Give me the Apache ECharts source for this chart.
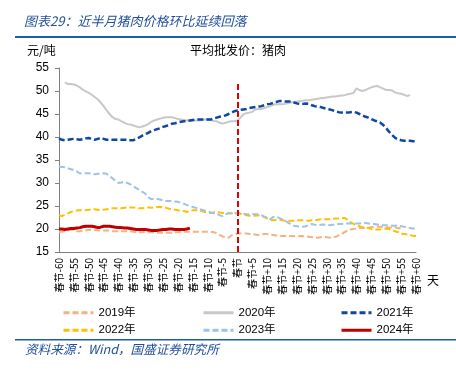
<!DOCTYPE html>
<html><head><meta charset="utf-8">
<script src="https://cdn.jsdelivr.net/npm/echarts@6/dist/echarts.min.js"></script>
<style>html,body{margin:0;padding:0;background:#fff}#c{width:456px;height:371px}</style>
</head><body><div id="c"></div>
<script>
// Day offsets relative to Spring Festival (-60 .. +60)
const dayOffsets = [];
for (let d = -60; d <= 60; d++) dayOffsets.push(d);
const categories = dayOffsets.map(d => d === 0 ? '春节' : (d > 0 ? '春节+' + d : '春节' + d));

const s2019 = [19.4,19.4,19.5,19.7,19.9,19.8,19.5,19.5,19.6,19.7,19.8,19.9,19.8,19.7,19.7,19.7,19.7,19.6,19.5,19.5,19.5,19.5,19.5,19.5,19.5,19.4,19.3,19.3,19.3,19.4,19.3,19.3,19.2,19.2,19.2,19.2,19.2,19.2,19.2,19.3,19.3,19.4,19.4,19.4,19.4,19.4,19.4,19.4,19.4,19.4,19.4,19.4,19.3,19.1,18.7,18.4,18.2,18.1,18.6,18.9,19.0,19.0,19.0,19.0,18.9,18.9,18.8,18.7,18.8,18.9,18.9,18.8,18.7,18.6,18.5,18.5,18.5,18.5,18.5,18.4,18.4,18.5,18.4,18.4,18.3,18.2,18.2,18.1,18.2,18.3,18.2,18.1,18.2,18.3,18.6,18.9,19.3,19.7,19.9,20.0,20.1,20.2,20.2,20.3,20.3,20.4,20.5,20.5,20.5,20.4,20.3,20.3,20.3,20.3,20.2,20.1];
const s2020 = [null,null,51.9,51.5,51.5,51.4,51.2,50.8,50.3,49.9,49.6,49.2,48.7,48.2,47.5,46.7,45.8,45.0,44.3,43.9,43.8,43.4,43.1,42.8,42.7,42.5,42.3,42.1,42.3,42.5,42.8,43.3,43.6,43.8,44.0,44.2,44.3,44.3,44.3,44.1,43.9,43.8,43.7,43.6,43.6,43.6,43.6,43.6,43.7,43.8,43.8,43.7,43.5,43.4,43.1,42.9,43.1,43.3,43.4,43.4,43.6,44.2,44.9,45.2,45.3,45.5,46.0,46.1,46.1,46.3,46.5,46.7,47.0,47.1,47.1,47.1,47.2,47.4,47.5,47.6,47.7,47.8,47.9,48.0,48.0,48.1,48.2,48.3,48.4,48.5,48.6,48.7,48.8,48.8,48.9,49.0,49.1,49.3,49.4,49.6,50.6,50.2,50.0,50.2,50.5,50.8,51.0,51.1,50.8,50.5,50.2,50.2,50.1,49.7,49.5,49.4,49.2,48.9,49.1,null,null];
const s2021 = [39.7,39.4,39.3,39.4,39.5,39.6,39.5,39.4,39.5,39.7,39.8,39.5,39.4,39.6,39.8,39.6,39.4,39.4,39.4,39.4,39.4,39.4,39.4,39.4,39.3,39.3,39.6,39.9,40.3,40.6,40.9,41.3,41.5,41.7,41.9,42.2,42.4,42.6,42.9,43.0,43.2,43.3,43.4,43.5,43.6,43.7,43.8,43.8,43.8,43.8,43.8,43.8,44.0,44.2,44.4,44.5,44.7,45.0,45.3,45.6,45.8,45.9,46.0,46.1,46.3,46.4,46.5,46.6,46.7,46.9,47.1,47.2,47.4,47.6,47.8,47.8,47.7,47.7,47.7,47.5,47.3,47.2,47.2,47.3,47.2,46.9,46.7,46.6,46.5,46.3,46.1,46.0,45.8,45.6,45.4,45.3,45.3,45.3,45.4,45.5,45.3,45.0,44.7,44.4,44.2,43.9,43.6,43.4,43.1,42.6,41.9,41.1,40.4,39.8,39.5,39.3,39.2,39.2,39.2,39.1,39.0];
const s2022 = [23.0,22.8,23.1,23.4,23.7,23.9,24.0,24.1,24.1,24.1,24.2,24.2,24.3,24.2,24.1,24.2,24.3,24.4,24.5,24.5,24.5,24.5,24.6,24.7,24.7,24.7,24.6,24.5,24.5,24.6,24.7,24.6,24.7,24.8,24.8,24.7,24.6,24.4,24.3,24.2,24.1,24.0,23.9,23.7,23.9,24.1,24.1,24.0,23.9,23.7,23.6,23.5,23.6,23.7,23.6,23.5,23.5,23.4,23.4,23.4,23.4,23.3,23.1,23.0,22.9,22.9,22.9,23.0,22.9,22.6,22.3,22.0,21.9,22.0,22.1,21.9,21.8,21.8,21.8,21.8,21.9,21.9,21.9,21.8,21.8,21.9,21.9,22.0,22.1,22.1,22.1,22.1,22.2,22.3,22.3,22.4,22.4,22.0,21.5,21.1,20.9,20.6,20.4,20.3,20.2,20.0,19.9,19.9,19.9,20.0,20.1,20.0,19.7,19.5,19.3,19.0,18.9,18.8,18.7,18.5,18.5];
const s2023 = [33.6,33.5,33.4,33.2,33.0,32.8,32.5,32.1,32.0,32.1,32.1,32.0,31.9,32.0,32.0,32.1,32.0,31.5,31.0,30.5,30.0,30.1,30.3,30.0,29.7,29.3,28.9,28.5,28.1,27.7,26.9,26.5,26.5,26.5,26.4,26.2,26.1,26.1,26.1,26.0,25.9,25.7,25.5,25.2,25.0,24.8,24.6,24.4,24.2,24.0,23.8,23.6,23.4,23.3,23.0,22.8,23.2,23.4,23.4,23.4,23.4,23.4,23.3,23.2,23.2,23.2,23.2,23.2,23.0,22.7,22.4,22.1,22.6,22.7,22.4,22.1,21.8,21.4,21.0,20.7,20.6,20.5,20.5,20.6,20.9,21.1,20.9,20.8,20.9,21.0,20.9,20.8,20.9,21.0,21.1,21.1,21.2,21.2,21.2,21.2,21.2,21.2,21.3,21.3,21.2,21.1,21.1,21.0,20.9,20.8,20.8,20.7,20.7,20.7,20.7,20.6,20.5,20.4,20.2,20.1,20.1];
const s2024 = [20.0,20.0,19.9,20.0,20.1,20.1,20.2,20.3,20.5,20.6,20.6,20.6,20.5,20.3,20.4,20.6,20.6,20.6,20.5,20.4,20.3,20.3,20.2,20.2,20.1,20.0,19.9,19.9,19.9,19.9,19.8,19.7,19.7,19.7,19.8,19.9,19.9,20.0,20.0,19.9,19.9,19.9,19.9,20.0,20.2];

const yTicks = [15,20,25,30,35,40,45,50,55];

const FONT = '"Liberation Sans", Arial, "Noto Sans CJK SC", sans-serif';
const CJK = '"Noto Sans CJK SC", sans-serif';
const dash = [6, 3];

function ser(name, data, color, width, dashed, z) {
  return {
    name, type: 'line', data, symbol: 'none', smooth: false, z: z || 2,
    connectNulls: false,
    lineStyle: { color, width, type: dashed ? dash : 'solid' },
    itemStyle: { color },
    emphasis: { disabled: true }, animation: false
  };
}

const series = [
  ser('2019年', s2019, '#F4B183', 2, true),
  ser('2020年', s2020, '#C8C8C8', 2, false),
  ser('2021年', s2021, '#0D47A1', 2.5, true, 3),
  ser('2022年', s2022, '#FFC000', 2, true),
  ser('2023年', s2023, '#9DC3E6', 2, true),
  ser('2024年', s2024, '#C00000', 3, false, 4)
];
series[5].markLine = {
  silent: true, symbol: ['none', 'none'], animation: false,
  lineStyle: { color: '#E00000', width: 2, type: [6, 3] },
  label: { show: false },
  data: [[{ coord: ['春节', 15] }, { coord: ['春节', 52] }]]
};

const legendCommon = {
  orient: 'vertical', itemWidth: 30, itemHeight: 12, itemGap: 6,
  itemStyle: { opacity: 0 },
  lineStyle: { width: 3 },
  textStyle: { fontFamily: FONT, fontSize: 11.5, color: '#000' }, top: 302
};

const chart = echarts.init(document.getElementById('c'), null, { renderer: 'canvas' });
chart.setOption({
  animation: false,
  backgroundColor: '#fff',
  grid: { left: 59, right: 40, top: 68, bottom: 119 },
  legend: [
    Object.assign({ left: 57, data: ['2019年', '2022年'] }, legendCommon),
    Object.assign({ left: 197, data: ['2020年', '2023年'] }, legendCommon),
    Object.assign({ left: 335, data: ['2021年', '2024年'] }, legendCommon)
  ],
  xAxis: {
    type: 'category', data: categories, boundaryGap: false,
    axisLine: { lineStyle: { color: '#808080', width: 1 } },
    axisTick: { show: false },
    axisLabel: { interval: 4, rotate: 90, fontSize: 10, color: '#000', fontFamily: CJK, margin: 6 },
    splitLine: { show: false }
  },
  yAxis: {
    type: 'value', min: 15, max: 55, interval: 5,
    axisLine: { show: true, lineStyle: { color: '#808080', width: 1 } },
    axisTick: { show: true, length: 4, lineStyle: { color: '#808080' } },
    axisLabel: { fontSize: 12, color: '#000', fontFamily: FONT, margin: 10 },
    splitLine: { show: false }
  },
  graphic: [
    { type: 'text', left: 24, top: 15, style: { text: '图表29：近半月猪肉价格环比延续回落', font: 'italic 13px ' + CJK, fill: '#1F4E9A' } },
    { type: 'rect', shape: { x: 15, y: 36, width: 441, height: 2 }, style: { fill: '#1F5CA8' } },
    { type: 'text', left: 27, top: 44, style: { text: '元/吨', font: '12px ' + CJK, fill: '#000' } },
    { type: 'text', left: 190, top: 44, style: { text: '平均批发价：猪肉', font: '12px ' + CJK, fill: '#000' } },
    { type: 'text', left: 427, top: 274, style: { text: '天', font: '12px ' + CJK, fill: '#000' } },
    { type: 'rect', shape: { x: 15, y: 339, width: 441, height: 1.5 }, style: { fill: '#1F5CA8' } },
    { type: 'text', left: 25, top: 343, style: { text: '资料来源：Wind，国盛证券研究所', font: 'italic 12.6px ' + CJK, fill: '#1F4E9A' } }
  ],
  series
});
</script></body></html>
